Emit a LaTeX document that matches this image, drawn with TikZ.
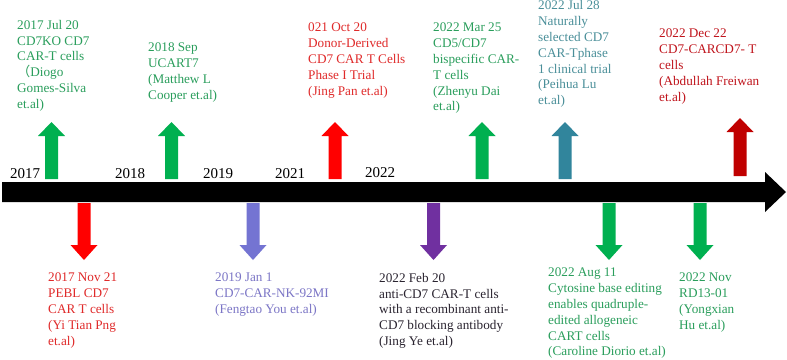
\documentclass[tikz,border=0pt]{standalone}
\usepackage{fontspec}
\setmainfont{Liberation Serif}
\newfontfamily\cjkfont{Noto Sans CJK SC}
\definecolor{agreen}{HTML}{00B050}
\definecolor{ared}{HTML}{FF0000}
\definecolor{adarkred}{HTML}{C00000}
\definecolor{apurple}{HTML}{7030A0}
\definecolor{ablue}{HTML}{7474D2}
\definecolor{ateal}{HTML}{31859C}
\definecolor{tgreen}{HTML}{2A9E5C}
\definecolor{tred}{HTML}{E02A2A}
\definecolor{tdarkred}{HTML}{C0141C}
\definecolor{tblue}{HTML}{7C76C6}
\definecolor{tdark}{HTML}{2A2430}
\definecolor{tteal}{HTML}{4A8F99}
\newcommand\blockup[4]{%
  \fill[#4] ({#1-6.5},#3) -- ({#1-6.5},{#2+14}) -- ({#1-13.5},{#2+14}) -- (#1,#2)
    -- ({#1+13.5},{#2+14}) -- ({#1+6.5},{#2+14}) -- ({#1+6.5},#3) -- cycle;}
\newcommand\blockdown[4]{%
  \fill[#4] ({#1-6.5},#2) -- ({#1-6.5},{#3-15}) -- ({#1-13.5},{#3-15}) -- (#1,#3)
    -- ({#1+13.5},{#3-15}) -- ({#1+6.5},{#3-15}) -- ({#1+6.5},#2) -- cycle;}
\begin{document}
\begin{tikzpicture}[x=1pt,y=-1pt,
  lbl/.style={anchor=north west,inner sep=0pt,align=left,
    font=\fontsize{13.2}{15.8}\selectfont},
  yearlbl/.style={anchor=base west,inner sep=0pt,font=\fontsize{15}{18}\selectfont}]
\useasboundingbox[fill=white] (0,0) rectangle (787,359);
% main timeline arrow
\fill[black] (2,182) -- (765,182) -- (765,172) -- (786,192) -- (765,212) -- (765,202) -- (2,202) -- cycle;
% years
\node[yearlbl] (y2017) at (10,178) {2017};
\node[yearlbl] (y2018) at (115,178) {2018};
\node[yearlbl] (y2019) at (203,178) {2019};
\node[yearlbl] (y2021) at (275,178) {2021};
\node[yearlbl] (y2022) at (365,177) {2022};
% up arrows
\blockup{51.5}{122}{179}{agreen}
\blockup{171.5}{122}{179}{agreen}
\blockup{335}{122}{179}{ared}
\blockup{482}{122}{179}{agreen}
\blockup{565}{122}{179}{ateal}
\blockup{740}{118}{176}{adarkred}
% down arrows
\blockdown{84}{203}{260}{ared}
\blockdown{253}{203}{260}{ablue}
\blockdown{433.5}{203}{260}{apurple}
\blockdown{609}{203}{260}{agreen}
\blockdown{700}{203}{260}{agreen}
% top labels
\node[lbl,text=tgreen] (t1) at (17,20) {2017 Jul 20\\CD7KO CD7\\CAR-T cells\\{\cjkfont （}Diogo\\Gomes-Silva\\et.al)};
\node[lbl,text=tgreen] (t2) at (148,43) {2018 Sep\\UCART7\\(Matthew L\\Cooper et.al)};
\node[lbl,text=tred] (t3) at (308,23) {021 Oct 20\\Donor-Derived\\CD7 CAR T Cells\\Phase I Trial\\(Jing Pan et.al)};
\node[lbl,text=tgreen] (t4) at (433,23) {2022 Mar 25\\CD5/CD7\\bispecific CAR-\\T cells\\(Zhenyu Dai\\et.al)};
\node[lbl,text=tteal] (t5) at (538,0.6) {2022 Jul 28\\Naturally\\selected CD7\\CAR-Tphase\\1 clinical trial\\(Peihua Lu\\et.al)};
\node[lbl,text=tdarkred] (t6) at (659,29) {2022 Dec 22\\CD7-CARCD7- T\\cells\\(Abdullah Freiwan\\et.al)};
% bottom labels
\node[lbl,text=tred] (b1) at (48,273) {2017 Nov 21\\PEBL CD7\\CAR T cells\\(Yi Tian Png\\et.al)};
\node[lbl,text=tblue] (b2) at (215,273) {2019 Jan 1\\CD7-CAR-NK-92MI\\(Fengtao You et.al)};
\node[lbl,text=tdark] (b3) at (379,273) {2022 Feb 20\\anti-CD7 CAR-T cells\\with a recombinant anti-\\CD7 blocking antibody\\(Jing Ye et.al)};
\node[lbl,text=tgreen] (b4) at (548,268) {2022 Aug 11\\Cytosine base editing\\enables quadruple-\\edited allogeneic\\CART cells\\(Caroline Diorio et.al)};
\node[lbl,text=tgreen] (b5) at (679,273) {2022 Nov\\RD13-01\\(Yongxian\\Hu et.al)};
\end{tikzpicture}
\end{document}
